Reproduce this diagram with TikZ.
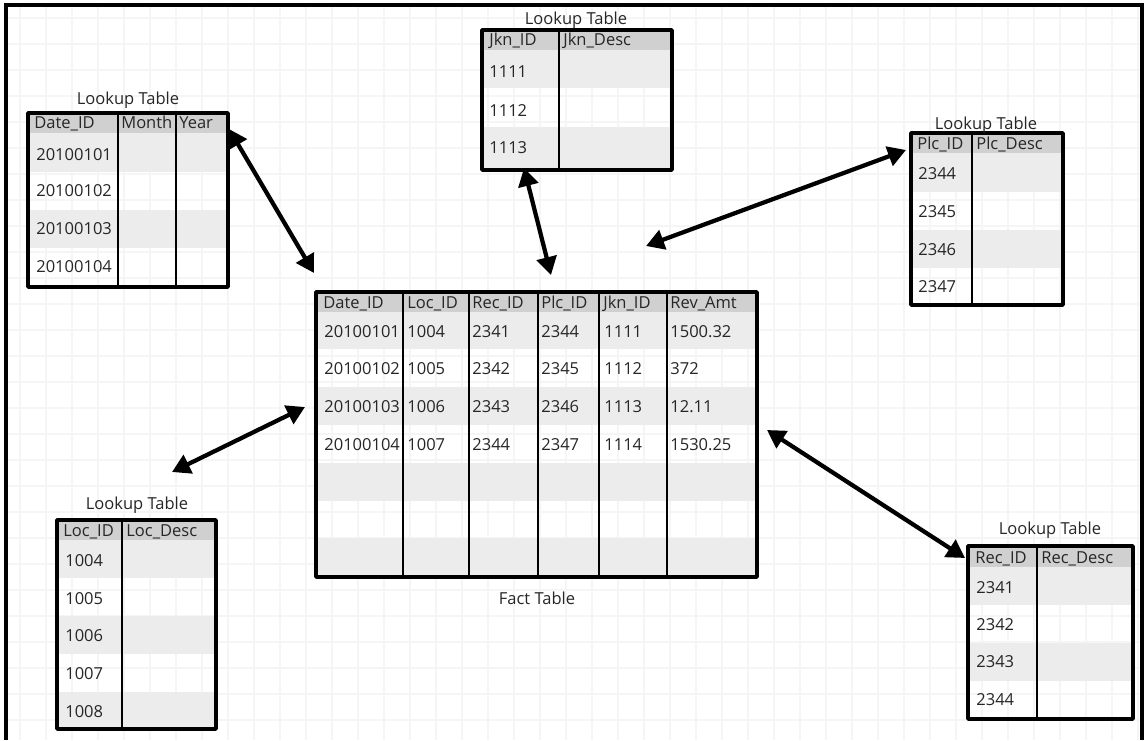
\documentclass[tikz,border=0pt]{standalone}
\usepackage{fontspec}
\setmainfont{Open Sans}
\usepackage{xcolor}
\usepackage{tikz}
\usetikzlibrary{arrows.meta}
\definecolor{headgray}{RGB}{208,208,208}
\definecolor{rowgray}{RGB}{236,236,236}
\definecolor{gridgray}{RGB}{245,245,245}

\tikzset{
  cell/.style={anchor=west, inner sep=0pt, text=black!85, font=\fontsize{9.4}{10}\selectfont},
  headcell/.style={cell, anchor=base west},
  caption/.style={inner sep=0pt, text=black!85, font=\fontsize{9.4}{10}\selectfont},
  tableline/.style={line width=0.07cm, line join=round},
  colline/.style={line width=0.045cm},
  gridline/.style={gridgray, line width=0.025cm},
  link/.style={{Triangle[length=0.36cm,width=0.4cm]}-{Triangle[length=0.36cm,width=0.4cm]}, line width=0.085cm}
}

\begin{document}
\begin{tikzpicture}[x=0.02cm, y=-0.02cm]
  \useasboundingbox (0,0) rectangle (1145,740);
  % background grid and frame
  \foreach \gx in {20,46,...,1140} \draw[gridline] (\gx,6) -- (\gx,740);
  \foreach \gy in {18,44,...,740} \draw[gridline] (6,\gy) -- (1142,\gy);
  \draw[line width=0.07cm] (6,740) -- (6,5) -- (1142,5) -- (1142,740);

  % Date lookup
  \fill[headgray] (28,113) rectangle (228,133);
  \foreach \t/\b in {133/172, 210/248} \fill[rowgray] (28,\t) rectangle (228,\b);
  \draw[colline] (118,113) -- (118,287) (176,113) -- (176,287);
  \draw[tableline] (28,113) rectangle (228,287);
  \node[caption] (dateTitle) at (128,100) {Lookup Table};
  \node[headcell] (dateH1) at (34,129) {Date\_ID};
  \node[headcell] (dateH2) at (121,129) {Month};
  \node[headcell] (dateH3) at (179,129) {Year};
  \foreach \v/\y [count=\i] in {20100101/155, 20100102/191, 20100103/229, 20100104/267}
    \node[cell] (date\i) at (36,\y) {\v};

  % Jkn lookup
  \fill[headgray] (482,30) rectangle (672,50);
  \foreach \t/\b in {50/88, 127/170} \fill[rowgray] (482,\t) rectangle (672,\b);
  \draw[colline] (559,30) -- (559,170);
  \draw[tableline] (482,30) rectangle (672,170);
  \node[caption] (jknTitle) at (576,20) {Lookup Table};
  \node[headcell] (jknH1) at (489,46) {Jkn\_ID};
  \node[headcell] (jknH2) at (563,46) {Jkn\_Desc};
  \foreach \v/\y [count=\i] in {1111/72, 1112/111, 1113/148}
    \node[cell] (jkn\i) at (489,\y) {\v};

  % Plc lookup
  \fill[headgray] (911,133) rectangle (1063,153);
  \foreach \t/\b in {153/192, 230/268} \fill[rowgray] (911,\t) rectangle (1063,\b);
  \draw[colline] (972,133) -- (972,305);
  \draw[tableline] (911,133) rectangle (1063,305);
  \node[caption] (plcTitle) at (986,125) {Lookup Table};
  \node[headcell] (plcH1) at (917,149) {Plc\_ID};
  \node[headcell] (plcH2) at (976,149) {Plc\_Desc};
  \foreach \v/\y [count=\i] in {2344/174, 2345/212, 2346/250, 2347/287}
    \node[cell] (plc\i) at (918,\y) {\v};

  % Loc lookup
  \fill[headgray] (57,520) rectangle (216,540);
  \foreach \t/\b in {540/578, 616/654, 692/729} \fill[rowgray] (57,\t) rectangle (216,\b);
  \draw[colline] (122,520) -- (122,729);
  \draw[tableline] (57,520) rectangle (216,729);
  \node[caption] (locTitle) at (137,505) {Lookup Table};
  \node[headcell] (locH1) at (63,536) {Loc\_ID};
  \node[headcell] (locH2) at (126,536) {Loc\_Desc};
  \foreach \v/\y [count=\i] in {1004/561, 1005/599, 1006/636, 1007/674, 1008/712}
    \node[cell] (loc\i) at (65,\y) {\v};

  % Rec lookup
  \fill[headgray] (968,546) rectangle (1133,567);
  \foreach \t/\b in {567/605, 643/681} \fill[rowgray] (968,\t) rectangle (1133,\b);
  \draw[colline] (1037,546) -- (1037,719);
  \draw[tableline] (968,546) rectangle (1133,719);
  \node[caption] (recTitle) at (1050,530) {Lookup Table};
  \node[headcell] (recH1) at (975,563) {Rec\_ID};
  \node[headcell] (recH2) at (1041,563) {Rec\_Desc};
  \foreach \v/\y [count=\i] in {2341/588, 2342/625, 2343/662, 2344/700}
    \node[cell] (rec\i) at (976,\y) {\v};

  % Fact table
  \fill[headgray] (316,292) rectangle (757,312);
  \foreach \t/\b in {312/349, 387/425, 463/501, 538/577} \fill[rowgray] (316,\t) rectangle (757,\b);
  \foreach \cx in {403,469,538,599,667} \draw[colline] (\cx,292) -- (\cx,577);
  \draw[tableline] (316,292) rectangle (757,577);
  \node[caption] (factTitle) at (537,598) {Fact Table};
  \foreach \h/\x [count=\i] in {Date\_ID/323, Loc\_ID/407, Rec\_ID/472, Plc\_ID/541, Jkn\_ID/603, Rev\_Amt/670}
    \node[headcell] (factH\i) at (\x,308) {\h};
  \foreach \a/\b/\c/\d/\e/\f/\y [count=\i] in {
      20100101/1004/2341/2344/1111/1500.32/332,
      20100102/1005/2342/2345/1112/372/369,
      20100103/1006/2343/2346/1113/12.11/407,
      20100104/1007/2344/2347/1114/1530.25/445} {
    \node[cell] (fact\i a) at (324,\y) {\a};
    \node[cell] (fact\i b) at (407,\y) {\b};
    \node[cell] (fact\i c) at (472,\y) {\c};
    \node[cell] (fact\i d) at (541,\y) {\d};
    \node[cell] (fact\i e) at (604,\y) {\e};
    \node[cell] (fact\i f) at (670,\y) {\f};
  }

  % links
  \coordinate (dateEnd) at (229,129);
  \coordinate (factDate) at (314,273);
  \coordinate (jknEnd) at (524,168);
  \coordinate (factJkn) at (551,275);
  \coordinate (plcEnd) at (906,150);
  \coordinate (factPlc) at (646,246);
  \coordinate (locEnd) at (172,472);
  \coordinate (factLoc) at (305,407);
  \coordinate (recEnd) at (965,558);
  \coordinate (factRec) at (767,430);
  \draw[link] (dateEnd) -- (factDate);
  \draw[link] (jknEnd) -- (factJkn);
  \draw[link] (plcEnd) -- (factPlc);
  \draw[link] (locEnd) -- (factLoc);
  \draw[link] (recEnd) -- (factRec);
\end{tikzpicture}
\end{document}
